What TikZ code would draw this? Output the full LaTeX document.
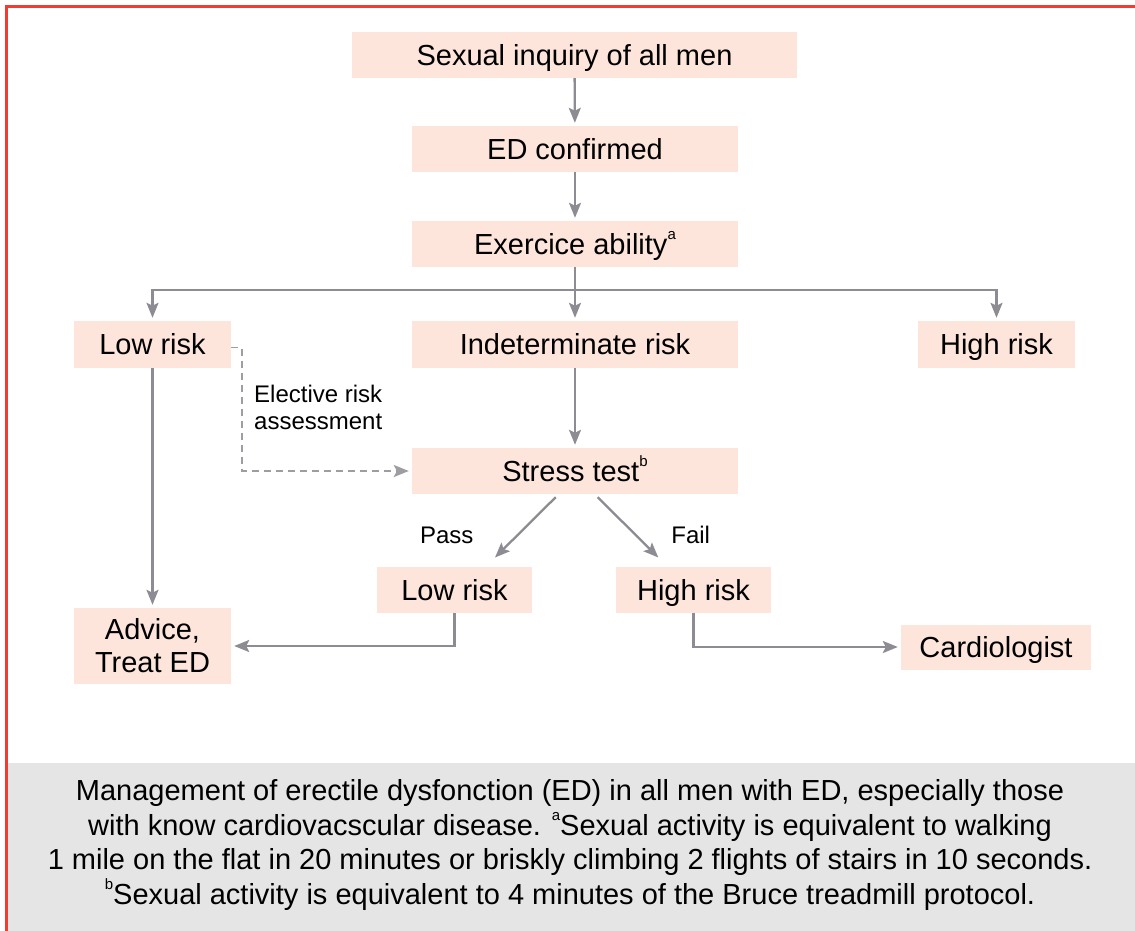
\documentclass[tikz,border=0pt]{standalone}
\usepackage{fontspec}
\setmainfont{Liberation Sans}
\usetikzlibrary{arrows.meta}
\definecolor{boxfill}{RGB}{253,229,219}
\definecolor{arrowgray}{RGB}{140,140,146}
\definecolor{bordred}{RGB}{240,60,50}
\definecolor{capgray}{RGB}{229,229,229}
\newcommand{\supmark}[1]{\raisebox{0.5em}{\fontsize{15}{15}\selectfont #1}}
\begin{document}
\begin{tikzpicture}[x=1pt,y=-1pt,
  boxbase/.style={fill=boxfill, inner sep=0pt, align=center, font=\fontsize{29}{33}\selectfont},
  box/.style={boxbase, text height=20.8pt, text depth=0pt},
  conn/.style={draw=arrowgray, line width=2.3pt, shorten >=3pt, -{Stealth[length=15pt,width=12pt,inset=3pt]}},
  dconn/.style={draw=arrowgray!85, line width=1.8pt, shorten >=3pt, dash pattern=on 7pt off 5pt, -{Stealth[length=15pt,width=12pt,inset=3pt]}},
  lbl/.style={inner sep=0pt, font=\fontsize{24}{27}\selectfont},
  caption/.style={inner sep=0pt, align=center, font=\fontsize{29}{34.5}\selectfont}]
\useasboundingbox (0,0) rectangle (1135,931);
% border and caption panel
\fill[capgray] (8,763) rectangle (1135,931);
\draw[bordred, line width=2.6pt] (6.5,931) -- (6.5,6.5) -- (1135,6.5);
% boxes
\node[box, minimum width=445pt, minimum height=46pt] (s1) at (574.5,55) {Sexual inquiry of all men};
\node[box, minimum width=326pt, minimum height=46pt] (s2) at (575,149) {ED confirmed};
\node[box, minimum width=326pt, minimum height=46pt] (s3) at (575,244) {Exercice ability\supmark{a}};
\node[box, minimum width=157pt, minimum height=47pt] (lowL) at (152.5,344.5) {Low risk};
\node[box, minimum width=326pt, minimum height=47pt] (ind) at (575,344.5) {Indeterminate risk};
\node[box, minimum width=157pt, minimum height=47pt] (highR) at (996.5,344.5) {High risk};
\node[box, minimum width=326pt, minimum height=46pt] (stress) at (575,471) {Stress test\supmark{b}};
\node[box, minimum width=155pt, minimum height=46pt] (lowM) at (454.5,590) {Low risk};
\node[box, minimum width=155pt, minimum height=46pt] (highM) at (693.5,590) {High risk};
\node[boxbase, minimum width=157pt, minimum height=76pt] (advice) at (152.5,646) {Advice,\\Treat ED};
\node[box, minimum width=190pt, minimum height=45pt] (cardio) at (996,647) {Cardiologist};
% labels
\node[lbl, anchor=west, align=left] (elect) at (254,407) {Elective risk\\assessment};
\node[lbl] (pass) at (446.7,535) {Pass};
\node[lbl] (fail) at (690.7,535) {Fail};
% connectors
\coordinate (br) at (575,290);
\draw[conn] (s1) -- (s2);
\draw[conn] (s2) -- (s3);
\draw[conn] (s3) -- (ind);
\draw[conn] (br) -| (lowL.north);
\draw[conn] (br) -| (highR.north);
\draw[dconn] ([yshift=-3pt]lowL.east) -- ++(11,0) |- (stress.west);
\draw[conn] (ind) -- (stress);
\draw[conn] (lowL) -- (advice);
\draw[conn, shorten >=0pt] ([xshift=-19.3pt,yshift=-3pt]stress.south) -- ([xshift=40.5pt,yshift=9.3pt]lowM.north);
\draw[conn, shorten >=0pt] ([xshift=22.7pt,yshift=-3pt]stress.south) -- ([xshift=-35.2pt,yshift=9.3pt]highM.north);
\draw[conn] (lowM.south) |- (advice.east);
\draw[conn] (highM.south) |- (cardio.west);
% caption
\node[caption] (cap) at (570,845) {Management of erectile dysfonction (ED) in all men with ED, especially those\\
with know cardiovacscular disease. \supmark{a}Sexual activity is equivalent to walking\\
1 mile on the flat in 20 minutes or briskly climbing 2 flights of stairs in 10 seconds.\\
\supmark{b}Sexual activity is equivalent to 4 minutes of the Bruce treadmill protocol.};
\end{tikzpicture}
\end{document}
